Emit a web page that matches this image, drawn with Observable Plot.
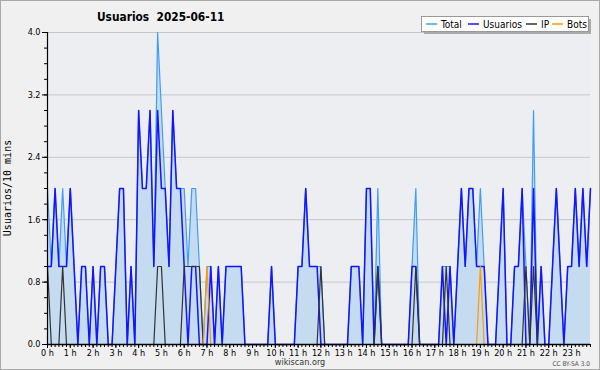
<!DOCTYPE html>
<html><head><meta charset="utf-8">
<script src="https://cdn.jsdelivr.net/npm/d3@7"></script>
<script src="https://cdn.jsdelivr.net/npm/@observablehq/plot@0.6"></script>
<style>
body{margin:0;background:#f0f0f0}
#chart{width:600px;height:370px;overflow:hidden}
</style>
</head><body><div id="chart"></div>
<script>
// 10-minute slots over the day (minutes since midnight)
const slotMinutes = d3.range(0, 1440, 10);

const total = [
  2,1,2,1,2,1,2,1,0,1,1,0,1,0,1,1,0,0,1,2,2,0,1,0,
  3,2,2,3,1,4,3,2,1,3,2,2,2,1,2,2,1,0,1,1,0,1,0,1,
  1,1,1,1,0,0,0,0,0,0,0,1,0,0,0,0,0,0,1,1,2,1,1,1,
  1,0,0,0,0,0,0,0,1,1,1,0,2,2,0,2,0,0,0,0,0,0,0,0,
  1,2,0,0,0,0,0,0,1,1,1,0,1,2,1,2,2,1,2,1,0,0,0,1,
  2,0,0,1,1,2,1,0,3,0,1,0,0,1,2,1,0,1,1,2,1,2,1,2
];
const usuarios = [
  1,1,2,1,1,1,2,1,0,1,1,0,1,0,1,1,0,0,1,2,2,0,1,0,
  3,2,2,3,1,3,2,2,1,3,2,2,1,0,1,1,0,0,0,1,0,1,0,1,
  1,1,1,1,0,0,0,0,0,0,0,1,0,0,0,0,0,0,1,1,2,1,1,1,
  0,0,0,0,0,0,0,0,1,1,1,0,2,2,0,1,0,0,0,0,0,0,0,0,
  1,1,0,0,0,0,0,0,1,0,1,0,1,2,1,2,2,1,1,1,0,0,0,1,
  2,0,0,1,1,2,0,0,2,0,1,0,0,1,2,1,0,1,1,2,1,2,1,2
];
const ip = [
  1,0,0,0,1,0,0,0,0,0,0,0,0,0,0,0,0,0,0,0,0,0,0,0,
  0,0,0,0,0,1,1,0,0,0,0,0,1,1,1,1,1,0,0,0,0,0,0,0,
  0,0,0,0,0,0,0,0,0,0,0,0,0,0,0,0,0,0,0,0,0,0,0,0,
  1,0,0,0,0,0,0,0,0,0,0,0,0,0,0,1,0,0,0,0,0,0,0,0,
  0,1,0,0,0,0,0,0,0,1,0,0,0,0,0,0,0,0,0,0,0,0,0,0,
  0,0,0,0,0,0,1,0,1,0,0,0,0,0,0,0,0,0,0,0,0,0,0,0
];
const bots = [
  0,0,0,0,0,0,0,0,0,0,0,0,0,0,0,0,0,0,0,0,0,0,0,0,
  0,0,0,0,0,0,0,0,0,0,0,0,0,0,0,0,0,0,1,0,0,0,0,0,
  0,0,0,0,0,0,0,0,0,0,0,0,0,0,0,0,0,0,0,0,0,0,0,0,
  0,0,0,0,0,0,0,0,0,0,0,0,0,0,0,0,0,0,0,0,0,0,0,0,
  0,0,0,0,0,0,0,0,0,0,0,0,0,0,0,0,0,0,1,0,0,0,0,0,
  0,0,0,0,0,0,0,0,0,0,0,0,0,0,0,0,0,0,0,0,0,0,0,0
];

const yTicks = [0, 0.8, 1.6, 2.4, 3.2, 4.0];
const yMinorTicks = d3.range(0, 21).map(k => k / 5);
const hourTicks = d3.range(0, 24);
const seriesNames = ["Total", "Usuarios", "IP", "Bots"];
const seriesColors = ["#3f9ef7", "#1414ff", "#333333", "#ff9a00"];
const titleText = "Usuarios  2025-06-11";
const yLabel = "Usuarios/10 mins";

const data = slotMinutes.map((m, i) => ({
  h: m / 60, total: total[i], usuarios: usuarios[i], ip: ip[i], bots: bots[i]
}));
const slotHours = slotMinutes.map(m => m / 60);

const font = "'DejaVu Sans Condensed','DejaVu Sans',sans-serif";

const chart = Plot.plot({
  width: 600, height: 370,
  marginLeft: 47, marginRight: 10, marginTop: 32, marginBottom: 26,
  style: {background: "#f0f0f0", fontFamily: font, fontSize: "9px", color: "#000", overflow: "visible"},
  x: {domain: [0, 143 / 6], label: null},
  y: {domain: [0, 4], label: null},
  marks: [
    Plot.frame({fill: "#eceef1", stroke: "none"}),
    Plot.ruleY(yTicks.slice(1), {stroke: "#c6c6c6", strokeWidth: 1}),
    Plot.areaY(data, {x: "h", y: "total", fill: "#c4dbf0"}),
    Plot.lineY(data, {x: "h", y: "total", stroke: seriesColors[0], strokeWidth: 1.2}),
    Plot.lineY(data, {x: "h", y: "usuarios", stroke: seriesColors[1], strokeWidth: 1.5}),
    Plot.lineY(data, {x: "h", y: "ip", stroke: seriesColors[2], strokeWidth: 1.2}),
    Plot.lineY(data, {x: "h", y: "bots", stroke: seriesColors[3], strokeWidth: 1.2}),
    Plot.axisY({ticks: yMinorTicks, tickSize: 3, tickFormat: () => "", label: null}),
    Plot.axisY({ticks: yTicks, tickSize: 5, tickPadding: 2, tickFormat: d => d.toFixed(1), fontSize: 9, label: null}),
    Plot.axisX({ticks: slotHours, tickSize: 3, tickFormat: () => "", label: null}),
    Plot.axisX({ticks: hourTicks, tickSize: 4, tickPadding: 1, tickFormat: d => d + " h", fontSize: 9, label: null}),
    Plot.ruleX([0], {stroke: "#000", strokeWidth: 1.2}),
    Plot.ruleY([0], {stroke: "#000", strokeWidth: 1.5})
  ]
});

document.getElementById("chart").appendChild(chart);
const svg = d3.select(chart);

// outer border
svg.append("rect").attr("x", 0.5).attr("y", 0.5).attr("width", 599).attr("height", 369)
  .attr("fill", "none").attr("stroke", "#a8a8a8");

// title
svg.append("text").attr("x", 97).attr("y", 21).attr("text-anchor", "start")
  .style("white-space", "pre").attr("xml:space", "preserve")
  .attr("font-family", font).attr("font-weight", "bold").attr("font-size", 11.8)
  .attr("fill", "#000").text(titleText);

// y label
svg.append("text").attr("transform", "translate(11,188) rotate(-90)")
  .attr("text-anchor", "middle").attr("font-family", "'DejaVu Sans Mono',monospace")
  .attr("font-size", 10).attr("fill", "#000").text(yLabel);

// footer
svg.append("text").attr("x", 300).attr("y", 365).attr("text-anchor", "middle")
  .attr("font-family", font).attr("font-size", 9).attr("fill", "#333").text("wikiscan.org");
svg.append("text").attr("x", 590).attr("y", 366).attr("text-anchor", "end")
  .attr("font-family", font).attr("font-size", 6.5).attr("fill", "#555").text("CC BY-SA 3.0");

// legend
const lg = svg.append("g").attr("text-anchor", "start");
lg.append("rect").attr("x", 424).attr("y", 19).attr("width", 167).attr("height", 15).attr("fill", "#aaa");
lg.append("rect").attr("x", 421.5).attr("y", 16.5).attr("width", 167).attr("height", 15)
  .attr("fill", "#fff").attr("stroke", "#999");
const legendX = [426, 468, 526, 552];
seriesNames.forEach((name, k) => {
  const x0 = legendX[k];
  lg.append("line").attr("x1", x0).attr("x2", x0 + 11).attr("y1", 24).attr("y2", 24)
    .attr("stroke", seriesColors[k]).attr("stroke-width", 1.5);
  lg.append("text").attr("x", x0 + 15).attr("y", 27.5).attr("text-anchor", "start")
    .attr("font-family", font).attr("font-size", 10).attr("fill", "#000").text(name);
});
</script>
</body></html>
